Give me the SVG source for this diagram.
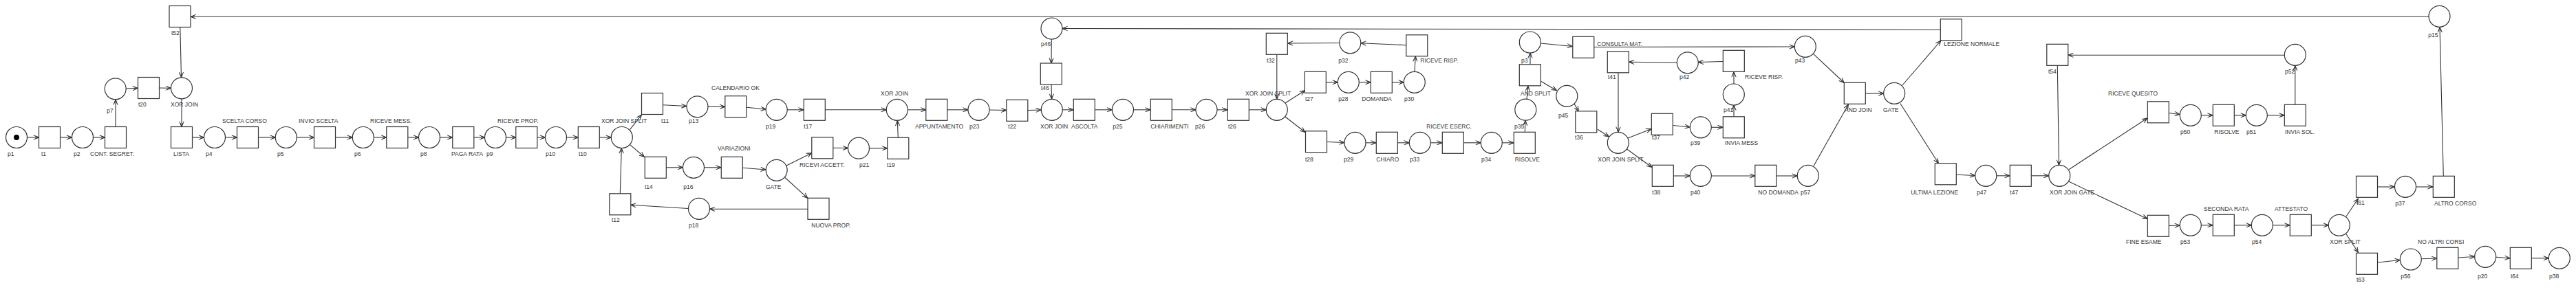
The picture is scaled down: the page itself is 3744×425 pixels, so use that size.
<svg xmlns="http://www.w3.org/2000/svg" width="3744" height="425" viewBox="0 0 3744 425">
<style>
.n circle,.n rect{fill:#fff;stroke:#333;stroke-width:1.2}
text{font-family:"Liberation Sans",Arial,sans-serif;font-size:8.5px;fill:#333}
#conn line{stroke:#333;stroke-width:1.1;marker-end:url(#a)}
</style>
<defs>
<marker id="a" viewBox="0 0 10 8" refX="9.5" refY="4" markerWidth="9" markerHeight="7.2" markerUnits="userSpaceOnUse" orient="auto">
<path d="M1,0.5 L9.5,4 L1,7.5 M3.5,2 L9.5,4 L3.5,6" fill="none" stroke="#333" stroke-width="1.1"/>
</marker>
</defs>
<rect width="3744" height="425" fill="#fff"/>
<g id="conn">
<line x1="39.5" y1="200" x2="56.5" y2="200"/>
<line x1="87.5" y1="200" x2="104.5" y2="200"/>
<line x1="135.5" y1="200" x2="152.5" y2="200"/>
<line x1="168" y1="184.5" x2="168" y2="145"/>
<line x1="183.2" y1="129" x2="200.5" y2="128.3"/>
<line x1="231.5" y1="128" x2="248.5" y2="128.3"/>
<line x1="261.8" y1="39.5" x2="263.5" y2="112.8"/>
<line x1="264" y1="143.8" x2="264" y2="184.5"/>
<line x1="279.5" y1="200" x2="296.5" y2="200"/>
<line x1="327.5" y1="200" x2="344.5" y2="200"/>
<line x1="375.5" y1="200" x2="400.3" y2="200"/>
<line x1="431.3" y1="200" x2="456.5" y2="200"/>
<line x1="487.5" y1="200" x2="512.3" y2="200"/>
<line x1="543.3" y1="200" x2="561.8" y2="200"/>
<line x1="592.8" y1="200" x2="608.5" y2="200"/>
<line x1="639.5" y1="200" x2="657.8" y2="200"/>
<line x1="688.8" y1="200" x2="704.5" y2="200"/>
<line x1="735.5" y1="200" x2="749.8" y2="200"/>
<line x1="780.8" y1="200" x2="792.5" y2="200"/>
<line x1="823.5" y1="200" x2="840.3" y2="200"/>
<line x1="871.3" y1="200" x2="888.3" y2="200"/>
<line x1="915.7" y1="188.3" x2="932.5" y2="167"/>
<line x1="915.7" y1="210.7" x2="936.5" y2="228.5"/>
<line x1="964" y1="152.7" x2="998" y2="154.5"/>
<line x1="1029" y1="155.3" x2="1053.8" y2="155.3"/>
<line x1="1085" y1="156.3" x2="1113.3" y2="159"/>
<line x1="1144.2" y1="159.8" x2="1168" y2="159.8"/>
<line x1="1199.5" y1="159.8" x2="1288.3" y2="159.8"/>
<line x1="968.5" y1="243.8" x2="992.5" y2="243.8"/>
<line x1="1023.5" y1="243.8" x2="1048" y2="243.8"/>
<line x1="1079.5" y1="244.3" x2="1113.2" y2="247"/>
<line x1="1143" y1="241" x2="1179.8" y2="222.7"/>
<line x1="1141" y1="258.5" x2="1173.8" y2="288.3"/>
<line x1="1211" y1="215.3" x2="1232.5" y2="215.5"/>
<line x1="1174" y1="304.3" x2="1031.5" y2="304.3"/>
<line x1="1000.5" y1="303.5" x2="916.8" y2="298.3"/>
<line x1="901.3" y1="281.8" x2="903.3" y2="215.5"/>
<line x1="1263.5" y1="215.8" x2="1289.8" y2="215.8"/>
<line x1="1305.3" y1="200.3" x2="1304.3" y2="175.3"/>
<line x1="1319.3" y1="159.8" x2="1345.8" y2="159.8"/>
<line x1="1376.8" y1="159.8" x2="1407" y2="159.8"/>
<line x1="1438" y1="160" x2="1462.8" y2="160.5"/>
<line x1="1493.8" y1="160.5" x2="1513.3" y2="160"/>
<line x1="2820.3" y1="43.3" x2="1544" y2="41.5"/>
<line x1="1528.3" y1="57" x2="1528" y2="92"/>
<line x1="1528" y1="123" x2="1528.5" y2="144.3"/>
<line x1="1544.3" y1="159.8" x2="1560" y2="159.8"/>
<line x1="1591.5" y1="159.8" x2="1616.5" y2="159.8"/>
<line x1="1647.5" y1="159.8" x2="1672" y2="159.8"/>
<line x1="1703.5" y1="159.8" x2="1738" y2="159.8"/>
<line x1="1769" y1="159.8" x2="1784" y2="159.8"/>
<line x1="1815.5" y1="159.8" x2="1840.3" y2="159.8"/>
<line x1="1855.8" y1="79.5" x2="1855.8" y2="144.3"/>
<line x1="1868" y1="150" x2="1896.5" y2="131.7"/>
<line x1="1868" y1="170" x2="1897" y2="192.5"/>
<line x1="1927.5" y1="119.8" x2="1944.3" y2="119.8"/>
<line x1="1975.3" y1="119.8" x2="1992" y2="119.8"/>
<line x1="2023.5" y1="119.8" x2="2040.3" y2="119.8"/>
<line x1="2056" y1="104.3" x2="2057.3" y2="81.8"/>
<line x1="2044" y1="65.7" x2="1977.8" y2="62.7"/>
<line x1="1946.8" y1="62.5" x2="1871.5" y2="63"/>
<line x1="1928.7" y1="206.5" x2="1954" y2="207.5"/>
<line x1="1985" y1="207.8" x2="2000" y2="207.8"/>
<line x1="2031.5" y1="207.8" x2="2048.3" y2="207.8"/>
<line x1="2079.3" y1="207.8" x2="2096" y2="207.8"/>
<line x1="2127.5" y1="207.8" x2="2152.3" y2="207.8"/>
<line x1="2183.3" y1="207.8" x2="2200" y2="207.8"/>
<line x1="2216.3" y1="192.3" x2="2217" y2="175.2"/>
<line x1="2219" y1="144.2" x2="2221" y2="124.8"/>
<line x1="2224" y1="93.8" x2="2224" y2="77"/>
<line x1="2240" y1="118.5" x2="2262.5" y2="131.7"/>
<line x1="2239.3" y1="63" x2="2285.5" y2="67.5"/>
<line x1="2317" y1="68.5" x2="2608.3" y2="68"/>
<line x1="2288" y1="151.3" x2="2294.5" y2="162"/>
<line x1="2322" y1="188.3" x2="2338.5" y2="199"/>
<line x1="2352" y1="105.8" x2="2352" y2="192.3"/>
<line x1="2437.3" y1="91" x2="2367.5" y2="90.3"/>
<line x1="2504" y1="89.5" x2="2468.3" y2="90.5"/>
<line x1="2366" y1="201" x2="2400" y2="187.7"/>
<line x1="2364.5" y1="217" x2="2401" y2="243.5"/>
<line x1="2431.5" y1="182.5" x2="2456.3" y2="185"/>
<line x1="2487.3" y1="185.3" x2="2504" y2="185.3"/>
<line x1="2520" y1="169.8" x2="2520" y2="153"/>
<line x1="2520" y1="122" x2="2520" y2="104.5"/>
<line x1="2432.5" y1="256" x2="2456.3" y2="256"/>
<line x1="2487.3" y1="256" x2="2550.8" y2="256"/>
<line x1="2581.8" y1="256" x2="2612.3" y2="256"/>
<line x1="2636" y1="78.8" x2="2680.3" y2="120.5"/>
<line x1="2636" y1="241.5" x2="2686.5" y2="152"/>
<line x1="2711.5" y1="136" x2="2737.7" y2="136"/>
<line x1="2764.5" y1="124.5" x2="2821" y2="59"/>
<line x1="2761.8" y1="150.5" x2="2817.5" y2="237.8"/>
<line x1="2843.5" y1="254.3" x2="2870.8" y2="255.5"/>
<line x1="2901.8" y1="255.8" x2="2921" y2="255.8"/>
<line x1="2952.5" y1="255.8" x2="2977.8" y2="255.8"/>
<line x1="2990.3" y1="95.5" x2="2992.5" y2="240.3"/>
<line x1="3320.3" y1="80.2" x2="3006" y2="80.2"/>
<line x1="3007" y1="246.7" x2="3121" y2="172"/>
<line x1="3007" y1="264.3" x2="3121" y2="318.5"/>
<line x1="3152.5" y1="164.5" x2="3168.3" y2="166.5"/>
<line x1="3199.3" y1="167.8" x2="3216" y2="167.8"/>
<line x1="3247.5" y1="167.8" x2="3264.3" y2="167.8"/>
<line x1="3295.3" y1="167.8" x2="3320" y2="167.8"/>
<line x1="3335.8" y1="152" x2="3335.8" y2="95.5"/>
<line x1="3152.5" y1="328.5" x2="3168.3" y2="328"/>
<line x1="3199.3" y1="327.8" x2="3216" y2="327.8"/>
<line x1="3247.5" y1="327.8" x2="3272.3" y2="327.8"/>
<line x1="3303.3" y1="327.8" x2="3328" y2="327.8"/>
<line x1="3359.5" y1="327.8" x2="3384.3" y2="327.8"/>
<line x1="3410" y1="315" x2="3427.5" y2="289"/>
<line x1="3410" y1="340.7" x2="3427.5" y2="367.5"/>
<line x1="3455.7" y1="272" x2="3480.5" y2="272"/>
<line x1="3511.5" y1="272" x2="3536" y2="272"/>
<line x1="3551.3" y1="256" x2="3546" y2="39.5"/>
<line x1="3530" y1="24.3" x2="277.3" y2="24.3"/>
<line x1="3455.7" y1="382" x2="3488.3" y2="378.5"/>
<line x1="3519.3" y1="376.8" x2="3541.8" y2="376"/>
<line x1="3573" y1="375" x2="3596.7" y2="373.5"/>
<line x1="3627.7" y1="374.3" x2="3648" y2="375.8"/>
<line x1="3679.5" y1="375.8" x2="3704.3" y2="375.8"/>
</g>
<g id="places" class="n">
<g id="p1"><circle cx="24" cy="200" r="15.5"/><circle cx="24" cy="200" r="4" style="fill:#000;stroke:none"/><text x="11" y="227">p1</text></g>
<g id="p2"><circle cx="120" cy="200" r="15.5"/><text x="107" y="227">p2</text></g>
<g id="p7"><circle cx="167.7" cy="129.3" r="15.5"/><text x="155" y="164">p7</text></g>
<g id="xorjoin1"><circle cx="264" cy="128.3" r="15.5"/><text x="248" y="155">XOR JOIN</text></g>
<g id="p4"><circle cx="312" cy="200" r="15.5"/><text x="299" y="227">p4</text></g>
<g id="p5"><circle cx="415.8" cy="200" r="15.5"/><text x="403" y="227">p5</text></g>
<g id="p6"><circle cx="527.8" cy="200" r="15.5"/><text x="515" y="227">p6</text></g>
<g id="p8"><circle cx="624" cy="200" r="15.5"/><text x="611" y="227">p8</text></g>
<g id="p9"><circle cx="720" cy="200" r="15.5"/><text x="707" y="227">p9</text></g>
<g id="p10"><circle cx="808" cy="200" r="15.5"/><text x="793" y="227">p10</text></g>
<g id="xorjoinsplit1"><circle cx="903.8" cy="200" r="15.5"/><text x="874" y="179">XOR JOIN SPLIT</text></g>
<g id="p13"><circle cx="1013.5" cy="155.3" r="15.5"/><text x="1001" y="179">p13</text></g>
<g id="p19"><circle cx="1128.7" cy="159.8" r="15.5"/><text x="1113" y="187">p19</text></g>
<g id="p16"><circle cx="1008" cy="243.8" r="15.5"/><text x="993.3" y="275">p16</text></g>
<g id="gate1"><circle cx="1128.7" cy="247.8" r="15.5"/><text x="1113" y="275">GATE</text></g>
<g id="p18"><circle cx="1016" cy="303.8" r="15.5"/><text x="1001" y="331">p18</text></g>
<g id="p21"><circle cx="1248" cy="215.7" r="15.5"/><text x="1249" y="243">p21</text></g>
<g id="xorjoin2"><circle cx="1303.8" cy="159.8" r="15.5"/><text x="1280" y="139">XOR JOIN</text></g>
<g id="p23"><circle cx="1422.5" cy="159.8" r="15.5"/><text x="1409" y="187">p23</text></g>
<g id="xorjoin3"><circle cx="1528.8" cy="159.8" r="15.5"/><text x="1512" y="187">XOR JOIN</text></g>
<g id="p46"><circle cx="1528.5" cy="41.5" r="15.5"/><text x="1513" y="67">p46</text></g>
<g id="p25"><circle cx="1632" cy="159.8" r="15.5"/><text x="1617.3" y="187">p25</text></g>
<g id="p26"><circle cx="1753.5" cy="159.8" r="15.5"/><text x="1737" y="187">p26</text></g>
<g id="xorjoinsplit2"><circle cx="1855.8" cy="159.8" r="15.5"/><text x="1810" y="139">XOR JOIN SPLIT</text></g>
<g id="p32"><circle cx="1962.3" cy="62.3" r="15.5"/><text x="1945.3" y="91">p32</text></g>
<g id="p28"><circle cx="1959.8" cy="119.8" r="15.5"/><text x="1945.3" y="147">p28</text></g>
<g id="p30"><circle cx="2055.8" cy="119.8" r="15.5"/><text x="2041" y="147">p30</text></g>
<g id="p29"><circle cx="1969.5" cy="207.8" r="15.5"/><text x="1953" y="235">p29</text></g>
<g id="p33"><circle cx="2063.8" cy="207.8" r="15.5"/><text x="2049" y="235">p33</text></g>
<g id="p34"><circle cx="2167.8" cy="207.8" r="15.5"/><text x="2153" y="235">p34</text></g>
<g id="p35"><circle cx="2217.3" cy="159.7" r="15.5"/><text x="2201" y="187">p35</text></g>
<g id="p3"><circle cx="2223.8" cy="61.5" r="15.5"/><text x="2211" y="91">p3</text></g>
<g id="p45"><circle cx="2277.3" cy="139.8" r="15.5"/><text x="2265" y="171">p45</text></g>
<g id="xorjoinsplit3"><circle cx="2351.8" cy="207.8" r="15.5"/><text x="2322.3" y="235">XOR JOIN SPLIT</text></g>
<g id="p42"><circle cx="2452.8" cy="91.3" r="15.5"/><text x="2441" y="115">p42</text></g>
<g id="p39"><circle cx="2471.8" cy="185.3" r="15.5"/><text x="2457" y="211">p39</text></g>
<g id="p40"><circle cx="2471.8" cy="255.8" r="15.5"/><text x="2457" y="283">p40</text></g>
<g id="p41"><circle cx="2519.8" cy="137.5" r="15.5"/><text x="2505" y="163">p41</text></g>
<g id="p43"><circle cx="2623.8" cy="67.8" r="15.5"/><text x="2609" y="91">p43</text></g>
<g id="p57"><circle cx="2627.8" cy="255.8" r="15.5"/><text x="2617" y="283">p57</text></g>
<g id="gate2"><circle cx="2753.2" cy="135.8" r="15.5"/><text x="2737" y="163">GATE</text></g>
<g id="p47"><circle cx="2886.3" cy="255.8" r="15.5"/><text x="2873" y="283">p47</text></g>
<g id="xorjoingate"><circle cx="2993.3" cy="255.8" r="15.5"/><text x="2979" y="283">XOR JOIN GATE</text></g>
<g id="p50"><circle cx="3183.8" cy="167.8" r="15.5"/><text x="3169" y="195">p50</text></g>
<g id="p51"><circle cx="3279.8" cy="167.8" r="15.5"/><text x="3265" y="195">p51</text></g>
<g id="p52"><circle cx="3335.8" cy="79.8" r="15.5"/><text x="3321" y="107">p52</text></g>
<g id="p53"><circle cx="3183.8" cy="327.8" r="15.5"/><text x="3169" y="355">p53</text></g>
<g id="p54"><circle cx="3287.8" cy="327.8" r="15.5"/><text x="3273" y="355">p54</text></g>
<g id="xorsplit"><circle cx="3399.8" cy="327.8" r="15.5"/><text x="3386.3" y="355">XOR SPLIT</text></g>
<g id="p37"><circle cx="3496" cy="271.8" r="15.5"/><text x="3481.3" y="299">p37</text></g>
<g id="p15"><circle cx="3545.5" cy="23.8" r="15.5"/><text x="3529.3" y="54">p15</text></g>
<g id="p56"><circle cx="3503.8" cy="377.5" r="15.5"/><text x="3489.3" y="405">p56</text></g>
<g id="p20"><circle cx="3612.2" cy="373.8" r="15.5"/><text x="3601" y="405">p20</text></g>
<g id="p38"><circle cx="3719.8" cy="375.8" r="15.5"/><text x="3705" y="405">p38</text></g>
</g>
<g id="transitions" class="n">
<g id="t1"><rect x="56.5" y="184.5" width="31" height="31"/><text x="60" y="227">t1</text></g>
<g id="cont-segret"><rect x="152.5" y="184.5" width="31" height="31"/><text x="131" y="227">CONT. SEGRET.</text></g>
<g id="t20"><rect x="200.5" y="112.5" width="31" height="31"/><text x="201" y="155">t20</text></g>
<g id="t52"><rect x="246" y="8.5" width="31" height="31"/><text x="249" y="51">t52</text></g>
<g id="lista"><rect x="248.5" y="184.5" width="31" height="31"/><text x="252" y="227">LISTA</text></g>
<g id="scelta-corso"><rect x="344.5" y="184.5" width="31" height="31"/><text x="323" y="179">SCELTA CORSO</text></g>
<g id="invio-scelta"><rect x="456.5" y="184.5" width="31" height="31"/><text x="434" y="179">INVIO SCELTA</text></g>
<g id="riceve-mess"><rect x="561.8" y="184.5" width="31" height="31"/><text x="538" y="179">RICEVE MESS.</text></g>
<g id="paga-rata"><rect x="657.8" y="184.5" width="31" height="31"/><text x="656" y="227">PAGA RATA</text></g>
<g id="riceve-prop"><rect x="749.8" y="184.5" width="31" height="31"/><text x="723" y="179">RICEVE PROP.</text></g>
<g id="t10"><rect x="840.3" y="184.5" width="31" height="31"/><text x="841" y="227">t10</text></g>
<g id="t11"><rect x="932.5" y="135.5" width="31" height="31"/><text x="961" y="179">t11</text></g>
<g id="t14"><rect x="937.3" y="228.3" width="31" height="31"/><text x="937" y="275">t14</text></g>
<g id="t12"><rect x="885.8" y="281.8" width="31" height="31"/><text x="889" y="323">t12</text></g>
<g id="calendario-ok"><rect x="1053.8" y="139.7" width="31" height="31"/><text x="1034" y="131">CALENDARIO OK</text></g>
<g id="t17"><rect x="1168.3" y="144.3" width="31" height="31"/><text x="1168.3" y="187">t17</text></g>
<g id="variazioni"><rect x="1048.3" y="228.3" width="31" height="31"/><text x="1043" y="219">VARIAZIONI</text></g>
<g id="ricevi-accett"><rect x="1179.8" y="199.8" width="31" height="31"/><text x="1162" y="243">RICEVI ACCETT.</text></g>
<g id="nuova-prop"><rect x="1174" y="288.3" width="31" height="31"/><text x="1179.3" y="331">NUOVA PROP.</text></g>
<g id="t19"><rect x="1289.8" y="200.3" width="31" height="31"/><text x="1289" y="243">t19</text></g>
<g id="appuntamento"><rect x="1345.8" y="144.3" width="31" height="31"/><text x="1330" y="187">APPUNTAMENTO</text></g>
<g id="t22"><rect x="1462.8" y="145.3" width="31" height="31"/><text x="1465.3" y="187">t22</text></g>
<g id="t46"><rect x="1512.3" y="92" width="31" height="31"/><text x="1513" y="131">t46</text></g>
<g id="ascolta"><rect x="1560.3" y="144.3" width="31" height="31"/><text x="1557" y="187">ASCOLTA</text></g>
<g id="chiarimenti"><rect x="1672.3" y="144.3" width="31" height="31"/><text x="1672.3" y="187">CHIARIMENTI</text></g>
<g id="t26"><rect x="1784.3" y="144.3" width="31" height="31"/><text x="1785" y="187">t26</text></g>
<g id="t32"><rect x="1840.3" y="48.3" width="31" height="31"/><text x="1841" y="91">t32</text></g>
<g id="riceve-risp1"><rect x="2043.8" y="50.8" width="31" height="31"/><text x="2064.3" y="91">RICEVE RISP.</text></g>
<g id="t27"><rect x="1896.3" y="104.3" width="31" height="31"/><text x="1897" y="147">t27</text></g>
<g id="domanda"><rect x="1992.3" y="104.3" width="31" height="31"/><text x="1979.3" y="147">DOMANDA</text></g>
<g id="t28"><rect x="1897.5" y="190.8" width="31" height="31"/><text x="1897" y="235">t28</text></g>
<g id="chiaro"><rect x="2000.3" y="192.3" width="31" height="31"/><text x="2000.3" y="235">CHIARO</text></g>
<g id="riceve-eserc"><rect x="2096.3" y="192.3" width="31" height="31"/><text x="2073.3" y="187">RICEVE ESERC.</text></g>
<g id="risolve1"><rect x="2200.3" y="192.3" width="31" height="31"/><text x="2201.7" y="235">RISOLVE</text></g>
<g id="and-split"><rect x="2208.3" y="93.8" width="31" height="31"/><text x="2210" y="139">AND SPLIT</text></g>
<g id="consulta-mat"><rect x="2285.8" y="53.3" width="31" height="31"/><text x="2321.3" y="67">CONSULTA MAT.</text></g>
<g id="t36"><rect x="2289.8" y="161.8" width="31" height="31"/><text x="2289" y="203">t36</text></g>
<g id="t41"><rect x="2336.3" y="74.8" width="31" height="31"/><text x="2337" y="115">t41</text></g>
<g id="t37"><rect x="2400.3" y="165.3" width="31" height="31"/><text x="2401" y="203">t37</text></g>
<g id="t38"><rect x="2401.3" y="240.3" width="31" height="31"/><text x="2401.3" y="283">t38</text></g>
<g id="riceve-risp2"><rect x="2504.3" y="73.3" width="31" height="31"/><text x="2536" y="115">RICEVE RISP.</text></g>
<g id="invia-mess"><rect x="2504.3" y="169.8" width="31" height="31"/><text x="2507" y="211">INVIA MESS</text></g>
<g id="no-domanda"><rect x="2550.8" y="240.3" width="31" height="31"/><text x="2555.3" y="283">NO DOMANDA</text></g>
<g id="and-join"><rect x="2680.3" y="120.3" width="31" height="31"/><text x="2681" y="163">AND JOIN</text></g>
<g id="lezione-normale"><rect x="2820.3" y="27.8" width="31" height="31"/><text x="2825.3" y="67">LEZIONE NORMALE</text></g>
<g id="ultima-lezione"><rect x="2812.3" y="237.8" width="31" height="31"/><text x="2777.3" y="283">ULTIMA LEZIONE</text></g>
<g id="t47"><rect x="2921.3" y="240.3" width="31" height="31"/><text x="2921.3" y="283">t47</text></g>
<g id="t54"><rect x="2974.8" y="64.3" width="31" height="31"/><text x="2977" y="107">t54</text></g>
<g id="riceve-quesito"><rect x="3121.3" y="147.8" width="31" height="31"/><text x="3064" y="139">RICEVE QUESITO</text></g>
<g id="fine-esame"><rect x="3121.3" y="313.3" width="31" height="31"/><text x="3090" y="355">FINE ESAME</text></g>
<g id="risolve2"><rect x="3216.3" y="152.3" width="31" height="31"/><text x="3218.3" y="195">RISOLVE</text></g>
<g id="invia-sol"><rect x="3320.3" y="152.3" width="31" height="31"/><text x="3321" y="195">INVIA SOL.</text></g>
<g id="seconda-rata"><rect x="3216.3" y="312.3" width="31" height="31"/><text x="3203" y="307">SECONDA RATA</text></g>
<g id="attestato"><rect x="3328.3" y="312.3" width="31" height="31"/><text x="3306" y="307">ATTESTATO</text></g>
<g id="t61"><rect x="3424.5" y="256.3" width="31" height="31"/><text x="3425" y="298">t61</text></g>
<g id="t63"><rect x="3424.5" y="368.3" width="31" height="31"/><text x="3425" y="410">t63</text></g>
<g id="altro-corso"><rect x="3536.3" y="256.3" width="31" height="31"/><text x="3538" y="299">ALTRO CORSO</text></g>
<g id="no-altri-corsi"><rect x="3541.8" y="360.3" width="31" height="31"/><text x="3514" y="355">NO ALTRI CORSI</text></g>
<g id="t64"><rect x="3648.3" y="360.3" width="31" height="31"/><text x="3649" y="405">t64</text></g>
</g>
</svg>
